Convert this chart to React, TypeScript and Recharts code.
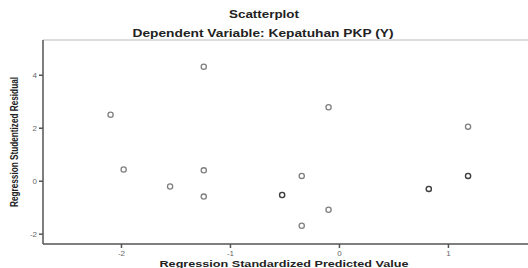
import React from 'react';
import { ScatterChart, Scatter, XAxis, YAxis, Customized } from 'recharts';

// predicted value (x) and studentized residual (y); repeated pairs are overlapping cases
const predicted = [-1.245, -2.1, -0.1, 1.18, -1.98, -1.245, -0.346, 1.18, 1.18, -1.554, 0.82, 0.82, -1.245, -0.526, -0.526, -0.1, -0.346];
const residual = [4.32, 2.51, 2.79, 2.06, 0.44, 0.41, 0.2, 0.2, 0.2, -0.2, -0.29, -0.29, -0.58, -0.52, -0.52, -1.08, -1.68];
const xTicks = [-2, -1, 0, 1];
const yTicks = [-2, 0, 2, 4];

const points = predicted.map((x, i) => ({ x, y: residual[i] }));

const W = 528;
const H = 268;
const font = '"Liberation Sans", Arial, sans-serif';

const Ring = (props: any) => (
  <circle cx={props.cx} cy={props.cy} r={2.6} fill="none" stroke="#000" strokeOpacity={0.5} strokeWidth={1.3} />
);

const Titles = () => (
  <g fontFamily={font} fill="#222">
    <text x={264} y={18} textAnchor="middle" fontSize={10} fontWeight="bold" textLength={70} lengthAdjust="spacingAndGlyphs">
      Scatterplot
    </text>
    <text x={263} y={36.5} textAnchor="middle" fontSize={10.5} fontWeight="bold" textLength={261} lengthAdjust="spacingAndGlyphs">
      Dependent Variable: Kepatuhan PKP (Y)
    </text>
    <text x={284} y={267} textAnchor="middle" fontSize={9.5} fontWeight="bold" textLength={249} lengthAdjust="spacingAndGlyphs">
      Regression Standardized Predicted Value
    </text>
    <text
      x={0}
      y={0}
      transform="translate(18,142) rotate(-90)"
      textAnchor="middle"
      fontSize={11}
      fontWeight="bold"
      textLength={130}
      lengthAdjust="spacingAndGlyphs"
    >
      Regression Studentized Residual
    </text>
  </g>
);

const tickStyle = { fontSize: 8, fill: '#666', fontFamily: font };

export default function App() {
  return (
    <div style={{ position: 'absolute', left: 0, top: 0, background: '#fff' }}>
      <ScatterChart width={W} height={H} margin={{ top: 0, right: 0, bottom: 0, left: 0 }}>
        <XAxis
          xAxisId="top"
          orientation="top"
          type="number"
          dataKey="x"
          domain={[-2.72, 1.73]}
          height={40}
          tick={false}
          tickLine={false}
          stroke="#bbb"
          allowDataOverflow
        />
        <XAxis
          type="number"
          dataKey="x"
          domain={[-2.72, 1.73]}
          ticks={xTicks}
          height={24}
          tickSize={4}
          tick={tickStyle}
          stroke="#555"
          strokeWidth={1.5}
          allowDataOverflow
        />
        <YAxis
          type="number"
          dataKey="y"
          domain={[-2.37, 5.33]}
          ticks={yTicks}
          width={43}
          tickSize={4}
          tick={tickStyle}
          stroke="#555"
          strokeWidth={1.5}
          allowDataOverflow
        />
        <Scatter data={points} shape={<Ring />} isAnimationActive={false} />
        <Customized component={Titles} />
      </ScatterChart>
    </div>
  );
}
